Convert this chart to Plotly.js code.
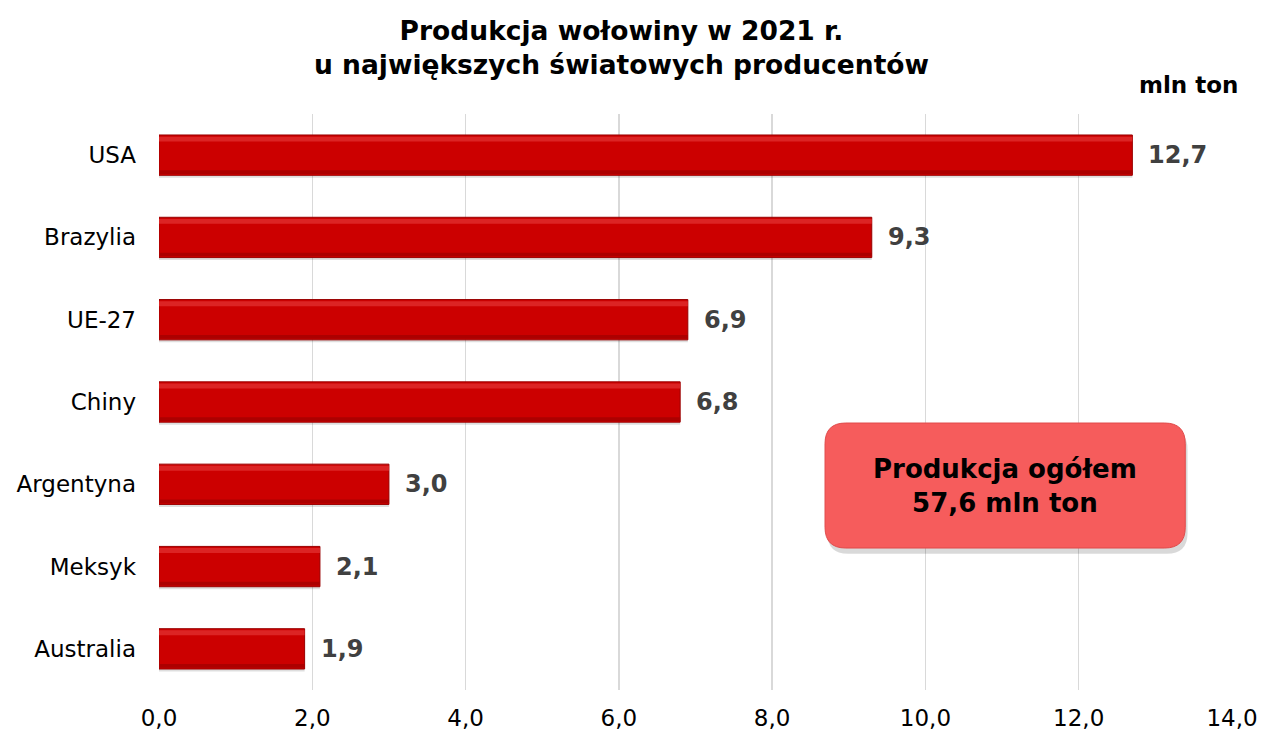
<!DOCTYPE html>
<html><head><meta charset="utf-8">
<script src="https://cdn.plot.ly/plotly-3.0.1.min.js"></script>
<style>body{margin:0;background:#fff}#c{width:1264px;height:736px}</style>
</head><body><div id="c"></div>
<script>
const countries = ["USA","Brazylia","UE-27","Chiny","Argentyna","Meksyk","Australia"];
const production = [12.7, 9.3, 6.9, 6.8, 3.0, 2.1, 1.9];
const tickVals = [0,2,4,6,8,10,12,14];
const titleText = "Produkcja wołowiny w 2021 r.<br>u największych światowych producentów";
const unitText = "mln ton";
const boxText = "Produkcja ogółem<br>57,6 mln ton";

const FONT = "Verdana, 'DejaVu Sans', sans-serif";
const BW = 0.49;

const shadow = {
  type: "bar", orientation: "h", x: production, y: countries,
  width: BW, offset: -BW/2 + 0.03,
  marker: {color: "rgba(0,0,0,0.13)", line: {width: 0}}, hoverinfo: "skip"
};
const main = {
  type: "bar", orientation: "h", x: production, y: countries,
  width: BW, offset: -BW/2,
  marker: {color: "#cc0000", line: {color: "#990000", width: 1}}, hoverinfo: "skip"
};
const topHi = {
  type: "bar", orientation: "h", x: production, y: countries,
  width: 0.06, offset: -BW/2 + 0.02,
  marker: {color: "#dc2424", line: {width: 0}}, hoverinfo: "skip"
};
const bottomDark = {
  type: "bar", orientation: "h", x: production, y: countries,
  width: 0.045, offset: BW/2 - 0.06,
  marker: {color: "#ac0000", line: {width: 0}}, hoverinfo: "skip"
};

const labelAnns = production.map((v, i) => ({
  x: v, y: countries[i], xref: "x", yref: "y",
  text: "<b>" + v.toFixed(1).replace(".", ",") + "</b>",
  showarrow: false, xanchor: "left", xshift: 14,
  font: {family: FONT, size: 24, color: "#404040"}
}));

// rounded box geometry
const x0 = 8.69, x1 = 13.39, y0 = 0.2465, y1 = 0.4635, rx = 0.27, ry = 0.036;
function rr(dx, dy) {
  const a = x0+dx, b = x1+dx, c = y0+dy, d = y1+dy;
  return `M ${a+rx} ${c} L ${b-rx} ${c} Q ${b} ${c} ${b} ${c+ry} L ${b} ${d-ry} Q ${b} ${d} ${b-rx} ${d} L ${a+rx} ${d} Q ${a} ${d} ${a} ${d-ry} L ${a} ${c+ry} Q ${a} ${c} ${a+rx} ${c} Z`;
}

const layout = {
  width: 1264, height: 736,
  margin: {l: 159, r: 32, t: 114, b: 46},
  paper_bgcolor: "#ffffff", plot_bgcolor: "#ffffff",
  separators: ",.",
  barmode: "overlay",
  showlegend: false,
  font: {family: FONT, color: "#000"},
  xaxis: {range: [0, 14], tickvals: tickVals, tickformat: ".1f",
          showgrid: true, gridcolor: "#d9d9d9", gridwidth: 1.5, zeroline: false,
          showline: false, ticks: "", ticklabelstandoff: 12,
          tickfont: {family: FONT, size: 23, color: "#000"}, automargin: false},
  yaxis: {autorange: "reversed", showgrid: false, zeroline: false, showline: false, ticks: "",
          ticklabelstandoff: 22,
          tickfont: {family: FONT, size: 23, color: "#000"}, automargin: false},
  shapes: [
    {type: "path", xref: "x", yref: "paper", path: rr(0.03, -0.01), fillcolor: "rgba(0,0,0,0.15)", line: {width: 0}, layer: "above"},
    {type: "path", xref: "x", yref: "paper", path: rr(0, 0), fillcolor: "#f65c5c", line: {color: "#e04a4a", width: 1}, layer: "above"}
  ],
  annotations: labelAnns.concat([
    {x: 0.4315, y: 1.115, xref: "paper", yref: "paper", xanchor: "center", yanchor: "middle",
     text: "<b>" + titleText + "</b>", showarrow: false,
     font: {family: FONT, size: 26.5, color: "#000"}},
    {x: 1, y: 1, xref: "paper", yref: "paper", xanchor: "right", yanchor: "bottom", yshift: 14, xshift: 8,
     text: "<b>" + unitText + "</b>", showarrow: false, font: {family: FONT, size: 23, color: "#000"}},
    {x: (x0 + x1) / 2, y: (y0 + y1) / 2, xref: "x", yref: "paper", text: "<b>" + boxText + "</b>",
     showarrow: false, font: {family: FONT, size: 26, color: "#000"}}
  ])
};

Plotly.newPlot("c", [shadow, main, topHi, bottomDark], layout, {displayModeBar: false, staticPlot: true});
</script></body></html>
